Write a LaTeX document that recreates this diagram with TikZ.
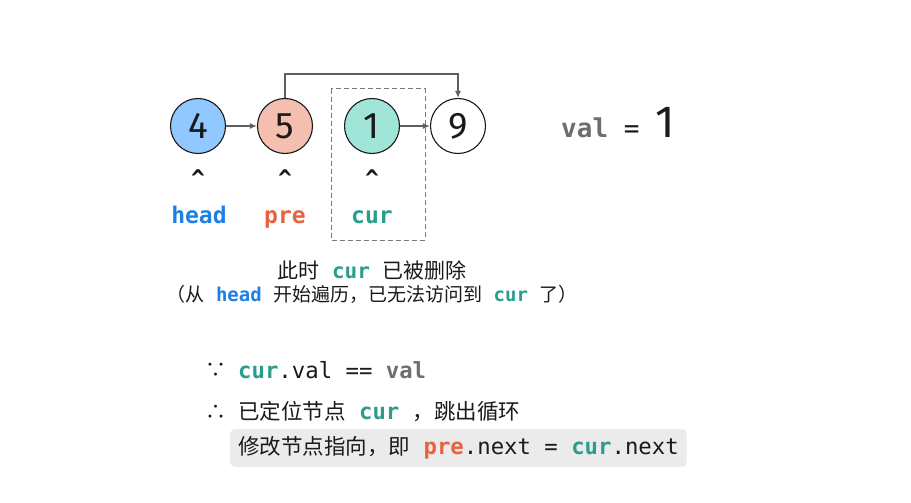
\documentclass[tikz,border=0pt]{standalone}
\usepackage{fontspec}
\usepackage{xcolor}
\usetikzlibrary{arrows.meta}
\setmainfont{Noto Sans CJK SC}
\setmonofont{DejaVu Sans Mono}
\newfontfamily\numfont{Fira Sans}
\definecolor{bg}{HTML}{FFFFFF}
\definecolor{txt}{HTML}{1A1A1A}
\definecolor{line}{HTML}{5F5F5F}
\definecolor{dashC}{HTML}{7A7A7A}
\definecolor{blueF}{HTML}{91C8FF}
\definecolor{redF}{HTML}{F4BFAF}
\definecolor{tealF}{HTML}{A1E5D9}
\definecolor{headC}{HTML}{1E7FE6}
\definecolor{preC}{HTML}{E8623E}
\definecolor{curC}{HTML}{2A9D8C}
\definecolor{valC}{HTML}{6E6E6E}
\definecolor{boxF}{HTML}{EBEBEB}
\newcommand{\cd}[2]{{\ttfamily\bfseries\color{#1}#2}}
\newcommand{\tts}[1]{{\ttfamily\fontsize{22.3}{22}\selectfont#1}}
\tikzset{
  lnode/.style={circle, draw=txt, line width=1.1pt, minimum size=55pt, inner sep=0pt,
    font=\numfont\fontsize{37}{37}\selectfont, text=txt},
  ptr/.style={draw=line, line width=1.5pt, -{Latex[length=7pt,width=6pt]}},
  lab/.style={text=txt, inner sep=0pt},
  caret/.style={lab, font=\ttfamily\bfseries\fontsize{23}{23}\selectfont},
  plab/.style={lab, anchor=base, font=\fontsize{23}{23}\selectfont},
  codebox/.style={fill=boxF, rounded corners=5pt, inner xsep=8pt, inner ysep=0pt,
    minimum height=38pt, text=txt}
}
\begin{document}
\begin{tikzpicture}[x=1pt, y=-1pt]
  \useasboundingbox[fill=bg] (0,0) rectangle (911,503);

  % list nodes
  \node[lnode, fill=blueF] (n4) at (198,126) {4};
  \node[lnode, fill=redF] (n5) at (285,126) {5};
  \node[lnode, fill=tealF] (n1) at (372,126) {1};
  \node[lnode, fill=bg] (n9) at (458,126) {9};

  % links
  \draw[ptr] (n4) -- (n5);
  \draw[ptr] (n1) -- (n9);
  \coordinate (up) at (285,74);
  \draw[ptr] (n5.north) -- (up) -| (n9.north);

  % removed node frame
  \draw[dashC, line width=1pt, dash pattern=on 5pt off 3pt] (331,89) rectangle (425,240);

  % pointers
  \node[caret] (c4) at (198,178) {\^{}};
  \node[caret] (c5) at (285,178) {\^{}};
  \node[caret] (c1) at (372,178) {\^{}};
  \node[plab] (phead) at (199,223) {\cd{headC}{head}};
  \node[plab] (ppre) at (285,223) {\cd{preC}{pre}};
  \node[plab] (pcur) at (372,223) {\cd{curC}{cur}};

  % value
  \node[lab, font=\fontsize{26}{26}\selectfont, anchor=base west] (val) at (561,137)
    {\cd{valC}{val}{\ttfamily\ = }{\numfont\fontsize{45}{45}\selectfont 1}};

  % notes
  \node[lab, font=\fontsize{21}{21}\selectfont] (note1) at (372,270)
    {此时{\ttfamily\ }\cd{curC}{cur}{\ttfamily\ }已被删除};
  \node[lab, font=\fontsize{19}{19}\selectfont] (note2) at (372,294)
    {（从{\ttfamily\ }\cd{headC}{head}{\ttfamily\ }开始遍历，已无法访问到{\ttfamily\ }\cd{curC}{cur}{\ttfamily\ }了）};

  % conclusion
  \node[lab, font=\fontsize{21}{21}\selectfont] (since) at (216,370) {∵};
  \node[lab, font=\fontsize{21.5}{21}\selectfont, anchor=west] (line1) at (238,370)
    {\tts{\cd{curC}{cur}.val == \cd{valC}{val}}};
  \node[lab, font=\fontsize{21}{21}\selectfont] (hence) at (216,412) {∴};
  \node[lab, font=\fontsize{21.5}{21}\selectfont, anchor=west] (line2) at (238,412)
    {已定位节点\tts{\ \cd{curC}{cur}\ }，跳出循环};
  \node[codebox, font=\fontsize{21.5}{21}\selectfont, anchor=west] (line3) at (230,448)
    {修改节点指向，即\tts{\ \cd{preC}{pre}.next = \cd{curC}{cur}.next}};
\end{tikzpicture}
\end{document}
